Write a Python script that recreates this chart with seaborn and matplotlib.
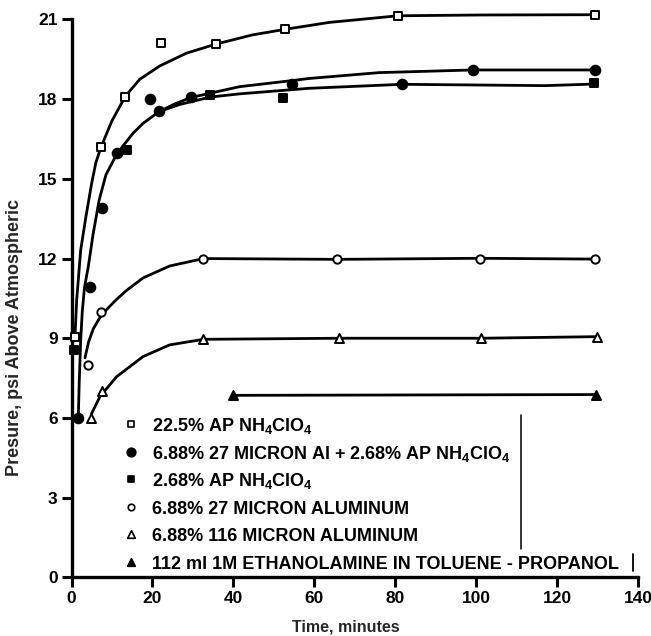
import matplotlib
matplotlib.use("Agg")
import matplotlib.pyplot as plt
import numpy as np
import pandas as pd
import seaborn as sns

# ---- measured points (time in minutes, pressure in psi above atmospheric) ----
ap225_t = [0.9, 7.3, 13.3, 22.0, 35.6, 52.8, 80.7, 129.4]
ap225_p = [9.05, 16.2, 18.1, 20.1, 20.07, 20.63, 21.14, 21.18]

mix_t = [1.7, 4.6, 7.6, 11.3, 19.5, 21.6, 29.6, 54.5, 81.7, 99.1, 129.4]
mix_p = [6.0, 10.94, 13.9, 15.96, 18.02, 17.57, 18.1, 18.57, 18.56, 19.1, 19.1]

ap268_t = [0.6, 13.6, 34.3, 52.3, 129.2]
ap268_p = [8.56, 16.09, 18.16, 18.03, 18.6]

al27_t = [4.1, 7.2, 32.6, 65.7, 100.9, 129.4]
al27_p = [8.0, 10.0, 12.0, 11.97, 12.0, 11.98]

al116_t = [4.8, 7.6, 32.6, 66.2, 101.2, 129.9]
al116_p = [6.0, 7.0, 8.96, 9.0, 9.0, 9.06]

eth_t = [39.8, 129.6]
eth_p = [6.85, 6.88]

# ---- hand-faired curves through each data set ----
ap225_curve_t = [0.86, 1.28, 2.27, 3.57, 4.98, 6.0, 7.3, 9.98, 13.35, 16.87, 21.8,
                 28.37, 35.59, 44.7, 52.76, 63.67, 80.67, 101.35, 129.43]
ap225_curve_p = [9.05, 10.44, 12.32, 13.58, 14.83, 15.6, 16.2, 17.18, 18.12, 18.75, 19.25,
                 19.73, 20.07, 20.42, 20.63, 20.89, 21.14, 21.17, 21.18]

mix_curve_t = [1.67, 1.93, 2.27, 2.66, 3.2, 4.14, 5.37, 6.85, 8.5, 11.28, 15.22, 17.68,
               21.63, 25.49, 29.43, 41.5, 54.48, 58.74, 75.99, 99.14, 129.36]
mix_curve_p = [5.99, 7.43, 8.93, 10.0, 10.9, 11.69, 12.95, 14.21, 15.15, 15.96, 16.72, 17.09,
               17.53, 17.82, 18.06, 18.47, 18.7, 18.78, 19.0, 19.1, 19.1]

ap268_curve_t = [21.63, 26.72, 34.29, 41.5, 58.74, 81.72, 117.04, 129.19]
ap268_curve_p = [17.53, 17.8, 18.08, 18.2, 18.41, 18.56, 18.51, 18.57]

al27_curve_t = [3.33, 4.2, 5.37, 6.9, 8.67, 11.13, 13.6, 17.68, 24.26, 32.64, 65.71, 100.86, 129.36]
al27_curve_p = [8.26, 8.85, 9.35, 9.75, 10.08, 10.46, 10.8, 11.27, 11.72, 12.0, 11.97, 12.01, 11.98]

al116_curve_t = [4.98, 7.02, 11.13, 17.68, 24.26, 32.64, 66.2, 101.2, 129.9]
al116_curve_p = [6.17, 6.8, 7.55, 8.31, 8.75, 8.96, 9.0, 9.0, 9.06]

x_ticks = [0, 20, 40, 60, 80, 100, 120, 140]
y_ticks = [0, 3, 6, 9, 12, 15, 18, 21]

legend_labels = [
    r"22.5% AP NH$_4$ClO$_4$",
    r"6.88% 27 MICRON Al + 2.68% AP NH$_4$ClO$_4$",
    r"2.68% AP NH$_4$ClO$_4$",
    "6.88% 27 MICRON ALUMINUM",
    "6.88% 116 MICRON ALUMINUM",
    "112 ml 1M ETHANOLAMINE IN TOLUENE - PROPANOL",
]

sns.set_theme(style="ticks")
plt.rcParams["font.family"] = ["Liberation Sans Narrow", "Liberation Sans", "DejaVu Sans"]
plt.rcParams["font.weight"] = "bold"
plt.rcParams["mathtext.default"] = "regular"
plt.rcParams["axes.labelweight"] = "bold"

W, H = 651, 636
fig = plt.figure(figsize=(W / 100, H / 100), dpi=100)
fig.patch.set_facecolor("white")
x0, x1, y_top, y_bot = 71.5, 638.0, 19.5, 577.3
ax = fig.add_axes([x0 / W, (H - y_bot) / H, (x1 - x0) / W, (y_bot - y_top) / H])
ax.set_facecolor("white")

line_kw = dict(color="black", linewidth=2.0, estimator=None, sort=False,
               legend=False, ax=ax, clip_on=False)
for ct, cp in [(ap225_curve_t, ap225_curve_p), (mix_curve_t, mix_curve_p),
               (ap268_curve_t, ap268_curve_p), (al27_curve_t, al27_curve_p),
               (al116_curve_t, al116_curve_p), (eth_t, eth_p)]:
    sns.lineplot(x=ct, y=cp, **line_kw)

# marker style per series: (marker, size, face)
styles = [("s", 28, "white"), ("o", 48, "black"), ("s", 30, "black"),
          ("o", 36, "white"), ("^", 42, "white"), ("^", 42, "black")]
series = [(ap225_t, ap225_p), (mix_t, mix_p), (ap268_t, ap268_p),
          (al27_t, al27_p), (al116_t, al116_p), (eth_t, eth_p)]
for (st, sp), (mk, sz, fc) in zip(series, styles):
    sns.scatterplot(x=st, y=sp, marker=mk, s=sz, color=fc, edgecolor="black",
                    linewidth=1.4, ax=ax, clip_on=False, zorder=4, legend=False)

ax.set_xlim(0, 140)
ax.set_ylim(0, 21)
ax.set_xticks(x_ticks)
ax.set_yticks(y_ticks)
ax.tick_params(direction="out", length=7, width=2.2, labelsize=12.5, pad=3,
               colors="black")
sns.despine(ax=ax)
for side in ("left", "bottom"):
    ax.spines[side].set_linewidth(2.4)
    ax.spines[side].set_color("black")

ax.set_xlabel("Time, minutes", fontsize=11.5, fontweight="bold")
ax.set_ylabel("Presure, psi Above Atmospheric", fontsize=13, fontweight="bold")
ax.xaxis.set_label_coords(0.4846, -0.075)
ax.yaxis.set_label_coords(-0.086, 0.43)

# legend block drawn inside the axes
leg_y0, leg_dy = 424.0, 27.6
leg_styles = [("s", 18, "white"), ("o", 38, "black"), ("s", 14, "black"),
              ("o", 22, "white"), ("^", 30, "white"), ("^", 30, "black")]
for i, (lab, (mk, sz, fc)) in enumerate(zip(legend_labels, leg_styles)):
    yp = leg_y0 + i * leg_dy
    ya = (y_bot - yp) / (y_bot - y_top)
    ax.scatter([(131 - x0) / (x1 - x0)], [ya], marker=mk, s=sz, c=fc,
               edgecolors="black", linewidths=1.2, transform=ax.transAxes,
               clip_on=False, zorder=5)
    ax.text((152 - x0) / (x1 - x0), (y_bot - yp - 7) / (y_bot - y_top), lab,
            transform=ax.transAxes, ha="left", va="baseline", fontsize=13.0,
            fontweight="bold", color="black")

# box-edge rules beside the legend
ax.plot([(521 - x0) / (x1 - x0)] * 2,
        [(y_bot - 549) / (y_bot - y_top), (y_bot - 415) / (y_bot - y_top)],
        transform=ax.transAxes, color="black", lw=1.1, clip_on=False)
ax.plot([(633 - x0) / (x1 - x0)] * 2,
        [(y_bot - 571) / (y_bot - y_top), (y_bot - 554) / (y_bot - y_top)],
        transform=ax.transAxes, color="black", lw=1.3, clip_on=False)

fig.savefig("out.png", dpi=100, facecolor="white")
